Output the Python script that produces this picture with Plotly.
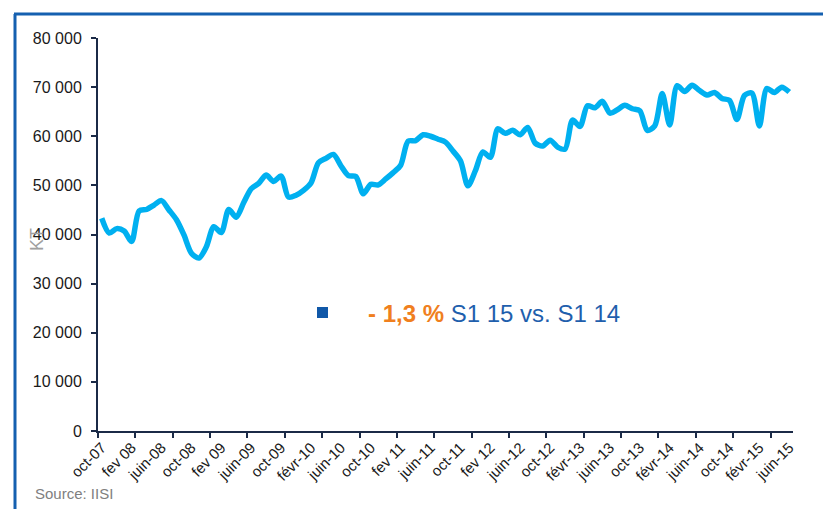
import plotly.graph_objects as go

# ---- data (kt per month, oct-07 .. juin-15) ----
production_kt = [
    43300, 40300, 41200, 40700, 38600, 44800, 45100, 46000, 46900, 45000,
    43000, 39900, 36200, 35200, 37500, 41600, 40400, 45100, 43500, 46500,
    49300, 50400, 52100, 50800, 51900, 47600, 48000, 49000, 50500, 54600,
    55500, 56300, 54000, 52000, 51800, 48300, 50200, 50100, 51300, 52600,
    54100, 59000, 59100, 60300, 60000, 59400, 58800, 57000, 55000, 49900,
    53000, 56800, 55700, 61500, 60600, 61200, 60300, 61800, 58600, 58000,
    59200, 57800, 57400, 63300, 62000, 66200, 65800, 67100, 64700, 65400,
    66300, 65600, 65200, 61200, 62100, 68700, 62300, 70300, 69100, 70400,
    69300, 68400, 68900, 67700, 67300, 63400, 68300, 68800, 62100, 69700,
    68900, 70000, 69000,
]
month_index = list(range(len(production_kt)))

tick_labels = [
    "oct-07", "fev 08", "juin-08", "oct-08", "fev 09", "juin-09", "oct-09",
    "févr-10", "juin-10", "oct-10", "fev 11", "juin-11", "oct-11", "fev 12",
    "juin-12", "oct-12", "févr-13", "juin-13", "oct-13", "févr-14",
    "juin-14", "oct-14", "févr-15", "juin-15",
]
tick_positions = month_index[::4]

y_ticks = [0, 10000, 20000, 30000, 40000, 50000, 60000, 70000, 80000]

# ---- layout geometry (page pixels; the page body adds an 8 px offset) ----
OFF = 8
W, H = 831 - OFF, 509 - OFF
L, R, T, B = 98 - OFF, 831 - 793, 38 - OFF, 509 - 431
PW, PH = W - L - R, H - T - B


def px(x):
    return (x - OFF - L) / PW


def py(y):
    return (H - B - (y - OFF)) / PH


AXIS = "#1B2A47"
FONT = "Liberation Sans, Arial, sans-serif"

fig = go.Figure()
fig.add_trace(go.Scatter(
    x=month_index, y=production_kt, mode="lines",
    line=dict(color="#00B0F0", width=5.5, shape="spline", smoothing=0.8),
    hoverinfo="skip", showlegend=False,
))

fig.update_layout(
    width=W, height=H,
    margin=dict(l=L, r=R, t=T, b=B),
    paper_bgcolor="white", plot_bgcolor="white",
    separators=", ",
    font=dict(family=FONT, color="#1a1a1a"),
    showlegend=False,
    xaxis=dict(
        range=[-0.5, 92.5], showgrid=False, zeroline=False,
        showline=True, linecolor=AXIS, linewidth=2,
        tickmode="array", tickvals=tick_positions, ticktext=tick_labels,
        tickangle=-45, ticks="", tickfont=dict(size=15, color="#1a1a1a"),
        minor=dict(ticks="outside", tickmode="linear", tick0=-0.5, dtick=5,
                   ticklen=5, tickwidth=2, tickcolor=AXIS, showgrid=False),
    ),
    yaxis=dict(
        range=[0, 80000], showgrid=False, zeroline=False,
        showline=True, linecolor=AXIS, linewidth=2,
        tickmode="array", tickvals=y_ticks, tickformat=",d",
        ticks="outside", ticklen=5, tickwidth=2, tickcolor=AXIS,
        ticklabelstandoff=6,
        tickfont=dict(size=16, color="#1a1a1a"),
    ),
)

# slide frame
fig.add_shape(type="line", xref="paper", yref="paper",
              x0=px(15), x1=px(15), y0=py(530), y1=py(14),
              line=dict(color="#1560B0", width=3))
fig.add_shape(type="line", xref="paper", yref="paper",
              x0=px(14), x1=px(850), y0=py(14), y1=py(14),
              line=dict(color="#1560B0", width=3))

# highlight box
fig.add_shape(type="rect", xref="paper", yref="paper",
              x0=px(317), x1=px(328), y0=py(318), y1=py(307),
              fillcolor="#1058A8", line=dict(width=0))
fig.add_annotation(
    xref="paper", yref="paper", x=px(366), y=py(313),
    xanchor="left", yanchor="middle", showarrow=False,
    text="<b><span style='color:#F07F1E'>- 1,3 %</span></b> S1 15 vs. S1 14",
    font=dict(size=24, color="#1F5FAD", family=FONT),
)

# axis title
fig.add_annotation(
    xref="paper", yref="paper", x=px(37), y=py(240),
    xanchor="center", yanchor="middle", showarrow=False, textangle=-90,
    text="KT", font=dict(size=18, color="#A0A0A0", family=FONT),
)

# source
fig.add_annotation(
    xref="paper", yref="paper", x=px(33), y=py(493),
    xanchor="left", yanchor="middle", showarrow=False,
    text="Source: IISI", font=dict(size=15, color="#808080", family=FONT),
)

fig.write_html("out.html")
